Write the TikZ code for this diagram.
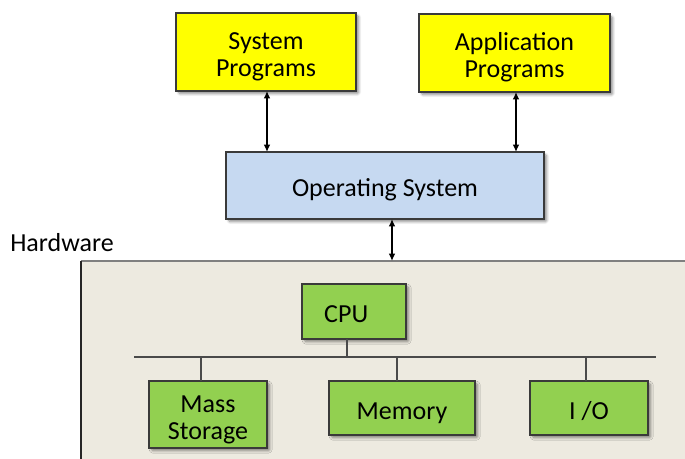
\documentclass[tikz,border=0pt]{standalone}
\usepackage{fontspec}
\setmainfont{Carlito}
\usetikzlibrary{arrows.meta,calc,shadows.blur}

\definecolor{progyellow}{HTML}{FFFF00}
\definecolor{osblue}{HTML}{C6D9F1}
\definecolor{hwgreen}{HTML}{92D050}
\definecolor{panelbeige}{HTML}{EDEAE0}
\definecolor{edgegray}{HTML}{3A3A3A}
\definecolor{busgray}{HTML}{4A4A4A}

% box text sits a little below the box centre
\newcommand{\boxtext}[1]{\raisebox{-4.2pt}[\height][\depth]{\begin{tabular}{@{}c@{}}#1\end{tabular}}}

\tikzset{
  box/.style={draw=edgegray, line width=0.9pt, inner sep=0pt, outer sep=0pt,
    font=\fontsize{19.5}{20.25}\selectfont,
    blur shadow={shadow xshift=2pt, shadow yshift=-2pt, shadow blur steps=6,
      shadow blur extra rounding=1pt, shadow opacity=45}},
  progbox/.style={box, fill=progyellow},
  osbox/.style={box, fill=osblue},
  hwbox/.style={box, fill=hwgreen},
  link/.style={line width=1.5pt, {Latex[length=5.5pt,width=5pt]}-{Latex[length=5.5pt,width=5pt]}},
  busline/.style={draw=busgray, line width=1.1pt},
}

\begin{document}
\begin{tikzpicture}[x=0.75pt, y=-0.75pt]
  \useasboundingbox (0,0) rectangle (685,458);
  \clip (0,0) rectangle (685,458);

  % hardware panel, running off the right and bottom edges
  \node[anchor=north west, fill=panelbeige, minimum width=500pt, minimum height=170pt,
        inner sep=0pt, outer sep=0pt] (hw) at (81,261) {};
  \draw[draw=gray, line width=1.2pt] (hw.north west) -- ($(hw.north west)+(620,0)$);
  \draw[draw=black!85, line width=1.2pt] (hw.north west) -- ($(hw.north west)+(0,220)$);
  \node[anchor=base west, inner sep=0pt, font=\fontsize{19.5}{20.25}\selectfont]
       (hwlabel) at (10,251) {Hardware};

  % software layers
  \node[progbox, minimum width=135pt, minimum height=58.5pt] (sys) at (266,52)
       {\boxtext{System\\Programs}};
  \node[progbox, minimum width=143.25pt, minimum height=58.5pt] (app) at (514.5,53)
       {\boxtext{Application\\Programs}};
  \node[osbox, minimum width=238.5pt, minimum height=50.25pt] (os) at (385,185.5)
       {\boxtext{Operating System}};

  \coordinate (sysA) at ($(sys.south)+(1,0)$);
  \coordinate (appA) at ($(app.south)+(1.5,0)$);
  \coordinate (osA)  at ($(os.south)+(7,0)$);
  \draw[link] (sysA) -- (sysA |- os.north);
  \draw[link] (appA) -- (appA |- os.north);
  \draw[link] (osA) -- (osA |- hw.north);

  % hardware components
  \node[hwbox, minimum width=78pt, minimum height=41.25pt] (cpu) at (354,311.5)
       {\boxtext{CPU\hspace*{0.6em}}};
  \node[hwbox, minimum width=88.5pt, minimum height=50.25pt] (ms) at (208,414.5)
       {\boxtext{Mass\\Storage}};
  \node[hwbox, minimum width=109.5pt, minimum height=40.5pt] (mem) at (402,408)
       {\boxtext{Memory}};
  \node[hwbox, minimum width=88.5pt, minimum height=40.5pt] (io) at (589,408)
       {\boxtext{I /O}};

  % system bus
  \coordinate (busL) at (134,357);
  \coordinate (busR) at (656,357);
  \coordinate (cpuT) at ($(cpu.south)+(-7,0)$);
  \coordinate (msT)  at ($(ms.north)+(-7,0)$);
  \coordinate (memT) at ($(mem.north)+(-5,0)$);
  \coordinate (ioT)  at ($(io.north)+(-3,0)$);
  \draw[busline] (busL) -- (busR);
  \draw[busline] (cpuT) -- (cpuT |- busL);
  \draw[busline] (msT) -- (msT |- busL);
  \draw[busline] (memT) -- (memT |- busL);
  \draw[busline] (ioT) -- (ioT |- busL);
\end{tikzpicture}
\end{document}
